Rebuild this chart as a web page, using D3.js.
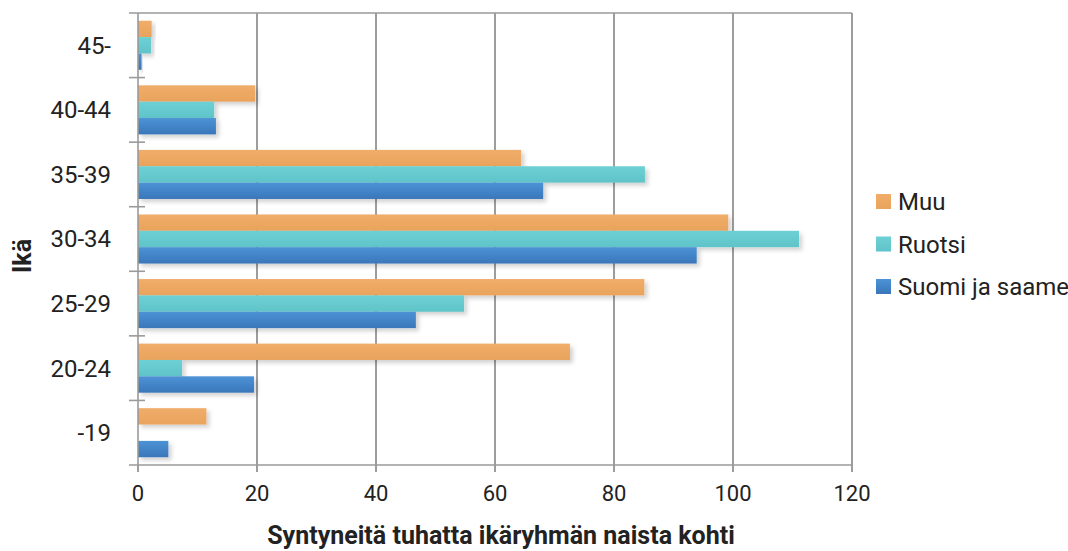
<!DOCTYPE html>
<html>
<head>
<meta charset="utf-8">
<script src="https://cdn.jsdelivr.net/npm/d3@7"></script>
<style>
  html, body { margin: 0; padding: 0; background: #fff; }
  svg { display: block; font-family: Roboto, "Open Sans", sans-serif; }
</style>
</head>
<body>
<div id="chart"></div>
<script>
// Births per thousand women by age group and mother tongue
const ageGroups = ["45-", "40-44", "35-39", "30-34", "25-29", "20-24", "-19"];
const seriesNames = ["Muu", "Ruotsi", "Suomi ja saame"];
const muu = [2.3, 19.7, 64.4, 99.2, 85.1, 72.6, 11.5];
const ruotsi = [2.2, 12.8, 85.2, 111.1, 54.8, 7.4, 0];
const suomi = [0.6, 13.1, 68.1, 93.9, 46.7, 19.5, 5.1];
const xTicks = [0, 20, 40, 60, 80, 100, 120];

function drawChart() {
    const W = 1068, H = 551;
    const margin = { top: 13, right: 216, bottom: 86, left: 138 };
    const width = W - margin.left - margin.right;
    const height = H - margin.top - margin.bottom;

    const data = ageGroups.map((g, i) => ({
        group: g,
        values: [muu[i], ruotsi[i], suomi[i]]
    }));

    const svgRoot = d3.select("#chart").append("svg")
        .attr("width", W)
        .attr("height", H);

    // gradients + shadow
    const defs = svgRoot.append("defs");
    const colors = [
        ["#f0ad6a", "#e9a35c"],
        ["#6dd0d4", "#5fc4c9"],
        ["#4c93d6", "#3a76ba"]
    ];
    colors.forEach((c, i) => {
        const g = defs.append("linearGradient")
            .attr("id", "grad" + i)
            .attr("x1", 0).attr("y1", 0).attr("x2", 0).attr("y2", 1);
        g.append("stop").attr("offset", "0%").attr("stop-color", c[0]);
        g.append("stop").attr("offset", "100%").attr("stop-color", c[1]);
    });
    const f = defs.append("filter").attr("id", "shadow")
        .attr("x", "-5%").attr("y", "-20%").attr("width", "130%").attr("height", "160%");
    f.append("feDropShadow")
        .attr("dx", 3).attr("dy", 3).attr("stdDeviation", 2)
        .attr("flood-color", "#000").attr("flood-opacity", 0.18);

    const svg = svgRoot.append("g")
        .attr("transform", `translate(${margin.left},${margin.top})`);

    // scales
    const x = d3.scaleLinear().domain([0, 120]).range([0, width]);
    const y = d3.scaleBand()
        .domain(ageGroups)
        .range([0, height])
        .paddingInner(0.24)
        .paddingOuter(0.12);
    const ySub = d3.scaleBand()
        .domain(d3.range(seriesNames.length))
        .range([0, y.bandwidth()]);

    // vertical gridlines
    svg.append("g")
        .selectAll("line")
        .data(xTicks.slice(1))
        .enter().append("line")
        .attr("x1", d => x(d)).attr("x2", d => x(d))
        .attr("y1", 0).attr("y2", height + 7)
        .attr("stroke", "#858585")
        .attr("stroke-width", 1.6);

    // top border line
    svg.append("line")
        .attr("x1", -9).attr("x2", width)
        .attr("y1", 0).attr("y2", 0)
        .attr("stroke", "#9a9a9a").attr("stroke-width", 1.6);

    // bars
    const groups = svg.append("g")
        .selectAll("g")
        .data(data)
        .enter().append("g")
        .attr("transform", d => `translate(0,${y(d.group)})`);

    groups.selectAll("rect")
        .data(d => d.values)
        .enter().append("rect")
        .attr("x", 0)
        .attr("y", (d, i) => ySub(i))
        .attr("width", d => x(d))
        .attr("height", ySub.bandwidth())
        .attr("fill", (d, i) => `url(#grad${i})`)
        .attr("filter", d => d > 0 ? "url(#shadow)" : null);

    // X axis
    const xAxis = svg.append("g")
        .attr("transform", `translate(0,${height})`);
    xAxis.append("line")
        .attr("x1", -9).attr("x2", width)
        .attr("stroke", "#9a9a9a").attr("stroke-width", 1.6);
    xAxis.selectAll("line.tick")
        .data(xTicks.slice(0, 1))
        .enter().append("line")
        .attr("class", "tick")
        .attr("x1", d => x(d)).attr("x2", d => x(d))
        .attr("y1", 0).attr("y2", 7)
        .attr("stroke", "#9a9a9a").attr("stroke-width", 1.6);
    xAxis.selectAll("text")
        .data(xTicks)
        .enter().append("text")
        .attr("x", d => x(d))
        .attr("y", 36)
        .attr("text-anchor", "middle")
        .attr("font-size", 22)
        .attr("fill", "#222")
        .text(d => d);

    // Y axis
    const yAxis = svg.append("g");
    yAxis.append("line")
        .attr("x1", 0).attr("x2", 0)
        .attr("y1", 0).attr("y2", height + 7)
        .attr("stroke", "#9a9a9a").attr("stroke-width", 1.6);
    yAxis.selectAll("line.tick")
        .data(d3.range(1, ageGroups.length))
        .enter().append("line")
        .attr("class", "tick")
        .attr("x1", -9).attr("x2", 7)
        .attr("y1", d => d * y.step()).attr("y2", d => d * y.step())
        .attr("stroke", "#9a9a9a").attr("stroke-width", 1.6);
    yAxis.selectAll("text")
        .data(ageGroups)
        .enter().append("text")
        .attr("x", -27)
        .attr("y", d => y(d) + y.bandwidth() / 2)
        .attr("dy", "0.35em")
        .attr("text-anchor", "end")
        .attr("font-size", 24)
        .attr("fill", "#222")
        .text(d => d);

    // axis titles
    svg.append("text")
        .attr("x", width / 2 + 6)
        .attr("y", height + 79)
        .attr("text-anchor", "middle")
        .attr("font-size", 25)
        .attr("font-weight", "bold")
        .attr("fill", "#222")
        .text("Syntyneitä tuhatta ikäryhmän naista kohti");

    svg.append("text")
        .attr("transform", `translate(${-107},${height / 2 + 17}) rotate(-90)`)
        .attr("text-anchor", "middle")
        .attr("font-size", 25)
        .attr("font-weight", "bold")
        .attr("fill", "#222")
        .text("Ikä");

    // legend
    const legend = svgRoot.append("g")
        .attr("transform", "translate(876,202)");
    const items = legend.selectAll("g")
        .data(seriesNames)
        .enter().append("g")
        .attr("transform", (d, i) => `translate(0,${i * 42.5})`);
    items.append("rect")
        .attr("x", 0).attr("y", -8)
        .attr("width", 15).attr("height", 15)
        .attr("fill", (d, i) => `url(#grad${i})`);
    items.append("text")
        .attr("x", 22)
        .attr("dy", "0.35em")
        .attr("font-size", 24)
        .attr("fill", "#222")
        .text(d => d);
}

document.addEventListener("DOMContentLoaded", drawChart);
</script>
</body>
</html>
